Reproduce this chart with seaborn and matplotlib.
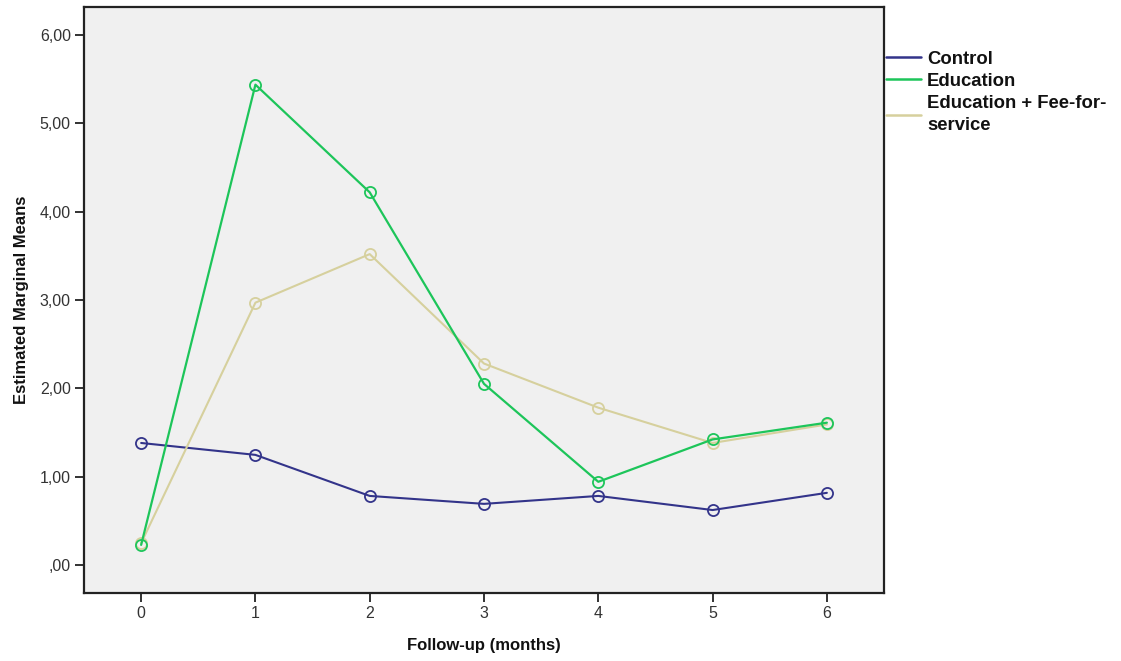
import matplotlib
matplotlib.use("Agg")
import matplotlib.pyplot as plt
import seaborn as sns
import pandas as pd
from matplotlib.ticker import FuncFormatter, FixedLocator
from matplotlib.lines import Line2D

months = [0, 1, 2, 3, 4, 5, 6]
control = [1.38, 1.245, 0.78, 0.69, 0.78, 0.62, 0.815]
education = [0.225, 5.44, 4.22, 2.05, 0.94, 1.42, 1.61]
edu_fee = [0.245, 2.97, 3.52, 2.28, 1.78, 1.38, 1.59]
series_names = ["Control", "Education", "Education + Fee-for-\nservice"]
colors = ["#33348a", "#1dc55a", "#d6d09d"]
y_ticks = [0, 1, 2, 3, 4, 5, 6]

sns.set_theme(style="white")
plt.rcParams['font.family'] = ['Liberation Sans', 'DejaVu Sans']

df = pd.DataFrame({
    "month": months * 3,
    "value": control + education + edu_fee,
    "group": [series_names[0]] * 7 + [series_names[1]] * 7 + [series_names[2]] * 7,
})

fig = plt.figure(figsize=(11.21, 6.61), dpi=100)
ax = fig.add_axes([84/1121, 1 - 593/661, 800/1121, 586/661])
ax.set_facecolor("#f0f0f0")

# draw in order so that Education is on top of Fee
for name, col, lw in [(series_names[0], colors[0], 1.5), (series_names[2], colors[2], 1.5), (series_names[1], colors[1], 1.6)]:
    sub = df[df["group"] == name]
    sns.lineplot(data=sub, x="month", y="value", ax=ax, color=col, linewidth=lw,
                 marker="o", markersize=8, markerfacecolor="none",
                 markeredgecolor=col, markeredgewidth=1.3, legend=False)

ax.set_xlim(-0.5, 6.5)
ax.set_ylim(-0.32, 6.32)
ax.xaxis.set_major_locator(FixedLocator(months))
ax.yaxis.set_major_locator(FixedLocator(y_ticks))


def fmt(v, p):
    s = "%.2f" % v
    if v == 0:
        s = s[1:]
    return s.replace(".", ",")


ax.yaxis.set_major_formatter(FuncFormatter(fmt))

for s in ax.spines.values():
    s.set_visible(True)
    s.set_color("#222222")
    s.set_linewidth(1.6)
ax.tick_params(axis="both", direction="out", length=6.5, width=1.3, color="#222222",
               labelsize=11.5, labelcolor="#333333", pad=3, bottom=True, left=True)

ax.set_xlabel("Follow-up (months)", fontsize=12, fontweight="bold", color="#111111", labelpad=12)
ax.set_ylabel("Estimated Marginal Means", fontsize=12, fontweight="bold", color="#111111", labelpad=8)

handles = [Line2D([0], [0], color=c, lw=1.8) for c in colors]
leg = ax.legend(handles, series_names, loc="upper left", bbox_to_anchor=(1.002, 0.925),
                frameon=False, handlelength=1.9, handletextpad=0.35, labelspacing=0.27,
                borderaxespad=0.0, borderpad=0.0,
                prop={"family": "Liberation Sans", "weight": "bold", "size": 13.3})
for t in leg.get_texts():
    t.set_color("#111111")
    t.set_linespacing(1.4)

fig.savefig("out.png", dpi=100, facecolor="white")
